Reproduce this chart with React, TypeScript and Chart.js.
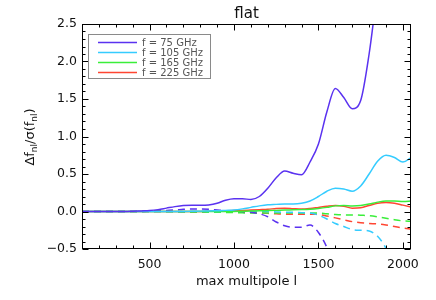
import { useEffect, useRef } from 'react';
import { Chart, registerables } from 'chart.js';

Chart.register(...registerables);

const ELL = [100, 150, 200, 250, 300, 350, 400, 450, 500, 550, 600, 650, 700, 750, 800, 850, 900, 950, 1000, 1050,
  1100, 1150, 1200, 1250, 1300, 1350, 1400, 1450, 1500, 1550, 1600, 1650, 1700, 1750, 1800, 1850, 1900, 1950, 2000, 2050];

const FREQS = ['75', '105', '165', '225'];
const COLORS = ['#5a32f0', '#35ccff', '#3aee3a', '#ff4632'];

const SOLID_75 = [0, 0, 0, 0, 0, 0, 0.003, 0.008, 0.013, 0.025, 0.045, 0.065, 0.08, 0.085, 0.083, 0.088, 0.11, 0.15, 0.17, 0.17,
  0.16, 0.2, 0.31, 0.45, 0.54, 0.51, 0.49, 0.66, 0.9, 1.33, 1.64, 1.52, 1.37, 1.48, 2.1, 2.95, 3.6, null, null, null];
const SOLID_105 = [0, 0, 0, 0, 0, 0, 0, 0, 0, 0, 0, 0, 0, 0.003, 0.005, 0.008, 0.01, 0.015, 0.02, 0.035,
  0.055, 0.075, 0.09, 0.095, 0.1, 0.1, 0.11, 0.14, 0.2, 0.27, 0.31, 0.3, 0.27, 0.34, 0.5, 0.67, 0.75, 0.72, 0.66, 0.72];
const SOLID_165 = [0, 0, 0, 0, 0, 0, 0, 0, 0, 0, 0, 0, 0, 0, 0, 0, 0, 0, 0, 0.003,
  0.006, 0.01, 0.012, 0.015, 0.02, 0.022, 0.025, 0.03, 0.04, 0.055, 0.075, 0.08, 0.075, 0.08, 0.1, 0.125, 0.14, 0.14, 0.135, 0.14];
const SOLID_225 = [0, 0, 0, 0, 0, 0, 0, 0, 0, 0, 0, 0, 0, 0, 0, 0.003, 0.008, 0.01, 0.012, 0.015,
  0.02, 0.025, 0.03, 0.04, 0.045, 0.038, 0.032, 0.04, 0.055, 0.07, 0.08, 0.07, 0.045, 0.05, 0.08, 0.11, 0.12, 0.11, 0.085, 0.06];

const DASH_75 = [0, 0, 0, 0, 0, 0, 0, 0, 0.005, 0.01, 0.015, 0.02, 0.03, 0.035, 0.035, 0.03, 0.02, 0.01, 0.005, 0,
  -0.01, -0.03, -0.07, -0.14, -0.19, -0.21, -0.21, -0.18, -0.28, -0.48, -0.8, null, null, null, null, null, null, null, null, null];
const DASH_105 = [0, 0, 0, 0, 0, 0, 0, 0, 0, 0, 0, 0, 0, 0, 0, 0, 0, 0.003, 0.005, 0.005,
  0.005, 0.003, 0, -0.005, -0.01, -0.01, -0.015, -0.02, -0.05, -0.1, -0.16, -0.2, -0.24, -0.25, -0.26, -0.33, -0.49, -0.75, null, null];
const DASH_165 = [0, 0, 0, 0, 0, 0, 0, 0, 0, 0, -0.003, -0.005, -0.008, -0.01, -0.01, -0.01, -0.01, -0.012, -0.015, -0.018,
  -0.02, -0.02, -0.02, -0.02, -0.02, -0.02, -0.02, -0.02, -0.022, -0.03, -0.04, -0.045, -0.045, -0.05, -0.055, -0.07, -0.09, -0.11, -0.125, -0.13];
const DASH_225 = [0, 0, 0, 0, 0, 0, 0, 0, 0, 0, 0, -0.003, -0.005, -0.005, -0.005, -0.005, -0.005, -0.005, -0.005, -0.01,
  -0.015, -0.02, -0.025, -0.03, -0.035, -0.035, -0.035, -0.035, -0.04, -0.06, -0.085, -0.11, -0.135, -0.15, -0.16, -0.165, -0.18, -0.2, -0.22, -0.235];

const SOLID = [SOLID_75, SOLID_105, SOLID_165, SOLID_225];
const DASHED = [DASH_75, DASH_105, DASH_165, DASH_225];

const X_MIN = 100;
const X_MAX = 2048;
const Y_MIN = -0.5;
const Y_MAX = 2.5;
const X_TICKS = [500, 1000, 1500, 2000];
const Y_TICKS = [-0.5, 0, 0.5, 1, 1.5, 2, 2.5];
const X_MINOR = 100;
const Y_MINOR = 0.1;

const TITLE = 'flat';
const X_TITLE = 'max multipole l';
const FONT = '"DejaVu Sans", sans-serif';

const decorPlugin = {
  id: 'decor',
  afterDraw(chart: any) {
    const ctx = chart.ctx as CanvasRenderingContext2D;
    const { left, right, top, bottom } = chart.chartArea;
    const xs = chart.scales.x;
    const ys = chart.scales.y;
    ctx.save();
    // frame
    const L = Math.round(left) + 0.5;
    const R = Math.round(right) - 0.5;
    const T = Math.round(top) + 0.5;
    const B = Math.round(bottom) - 0.5;
    ctx.strokeStyle = '#000';
    ctx.lineWidth = 1;
    ctx.strokeRect(L, T, R - L, B - T);
    // ticks
    ctx.beginPath();
    for (let v = Math.ceil(X_MIN / X_MINOR) * X_MINOR; v <= X_MAX; v += X_MINOR) {
      const major = X_TICKS.includes(v);
      const len = major ? 6 : 3;
      const px = Math.round(xs.getPixelForValue(v)) + 0.5;
      ctx.moveTo(px, B); ctx.lineTo(px, B - len);
      ctx.moveTo(px, T); ctx.lineTo(px, T + len);
    }
    for (let i = 0; i <= Math.round((Y_MAX - Y_MIN) / Y_MINOR); i++) {
      const v = Y_MIN + i * Y_MINOR;
      const major = Y_TICKS.some((t) => Math.abs(t - v) < 1e-6);
      const len = major ? 6 : 3;
      const py = Math.round(ys.getPixelForValue(v)) + 0.5;
      ctx.moveTo(L, py); ctx.lineTo(L + len, py);
      ctx.moveTo(R, py); ctx.lineTo(R - len, py);
    }
    ctx.stroke();

    // title
    ctx.fillStyle = '#111';
    ctx.textAlign = 'center';
    ctx.textBaseline = 'alphabetic';
    ctx.font = `15px ${FONT}`;
    ctx.fillText(TITLE, (left + right) / 2, 18);
    // x title
    ctx.font = `13px ${FONT}`;
    ctx.fillText(X_TITLE, (left + right) / 2, 285);

    // y title with subscripts
    const parts = [
      { t: '\u0394f', sub: false },
      { t: 'nl', sub: true },
      { t: '/\u03c3(f', sub: false },
      { t: 'nl', sub: true },
      { t: ')', sub: false },
    ];
    const mainFont = `13px ${FONT}`;
    const subFont = `9px ${FONT}`;
    let total = 0;
    const widths = parts.map((p) => {
      ctx.font = p.sub ? subFont : mainFont;
      const w = ctx.measureText(p.t).width;
      total += w;
      return w;
    });
    ctx.save();
    ctx.translate(34, 137);
    ctx.rotate(-Math.PI / 2);
    ctx.textAlign = 'left';
    let cx = -total / 2;
    parts.forEach((p, i) => {
      ctx.font = p.sub ? subFont : mainFont;
      ctx.fillText(p.t, cx, p.sub ? 3 : 0);
      cx += widths[i];
    });
    ctx.restore();

    // legend
    const bx = 88.5, by = 34.5, bw = 122, bh = 44;
    ctx.strokeStyle = '#8a8a8a';
    ctx.lineWidth = 1;
    ctx.strokeRect(bx, by, bw, bh);
    ctx.font = `10px ${FONT}`;
    ctx.textAlign = 'left';
    ctx.fillStyle = '#555';
    FREQS.forEach((f, i) => {
      const ry = 42.5 + i * 10;
      ctx.strokeStyle = COLORS[i];
      ctx.lineWidth = 1.5;
      ctx.beginPath();
      ctx.moveTo(98, ry);
      ctx.lineTo(137, ry);
      ctx.stroke();
      ctx.fillText(`f = ${f} GHz`, 142, ry + 3.7);
    });
    ctx.restore();
  },
};

export default function App() {
  const ref = useRef<HTMLCanvasElement>(null);
  useEffect(() => {
    if (!ref.current) return;
    const datasets: any[] = [];
    SOLID.forEach((vals, i) => {
      datasets.push({
        label: `f = ${FREQS[i]} GHz`,
        data: ELL.map((x, j) => ({ x, y: vals[j] })),
        borderColor: COLORS[i],
        borderWidth: 1.5,
        pointRadius: 0,
        cubicInterpolationMode: 'monotone',
        spanGaps: false,
        fill: false,
      });
    });
    DASHED.forEach((vals, i) => {
      datasets.push({
        label: `f = ${FREQS[i]} GHz (dashed)`,
        data: ELL.map((x, j) => ({ x, y: vals[j] })),
        borderColor: COLORS[i],
        borderWidth: 1.5,
        borderDash: [7, 5],
        pointRadius: 0,
        cubicInterpolationMode: 'monotone',
        spanGaps: false,
        fill: false,
      });
    });
    const chart = new Chart(ref.current, {
      type: 'line',
      data: { datasets },
      options: {
        animation: false,
        responsive: false,
        devicePixelRatio: 1,
        layout: { padding: { left: 0, right: 25, top: 24, bottom: 0 } },
        plugins: { legend: { display: false }, title: { display: false }, tooltip: { enabled: false } },
        scales: {
          x: {
            type: 'linear',
            min: X_MIN,
            max: X_MAX,
            grid: { display: false, drawTicks: false },
            border: { display: false },
            afterBuildTicks: (s: any) => { s.ticks = X_TICKS.map((value) => ({ value })); },
            afterFit: (s: any) => { s.height = 51; },
            ticks: {
              padding: 8,
              maxRotation: 0,
              autoSkip: false,
              color: '#111',
              font: { family: FONT, size: 12.5 },
              callback: (v: any) => String(v),
            },
          },
          y: {
            type: 'linear',
            min: Y_MIN,
            max: Y_MAX,
            grid: { display: false, drawTicks: false },
            border: { display: false },
            afterBuildTicks: (s: any) => { s.ticks = Y_TICKS.map((value) => ({ value })); },
            afterFit: (s: any) => { s.width = 82; },
            ticks: {
              padding: 5,
              autoSkip: false,
              color: '#111',
              font: { family: FONT, size: 12.5 },
              callback: (v: any) => Number(v).toFixed(1).replace('-', '\u2212'),
            },
          },
        },
      },
      plugins: [decorPlugin],
    });
    return () => chart.destroy();
  }, []);
  return (
    <div style={{ position: 'absolute', left: 0, top: 0, width: 436, height: 300, background: '#fff' }}>
      <canvas ref={ref} width={436} height={300} style={{ display: 'block', width: 436, height: 300 }} />
    </div>
  );
}
